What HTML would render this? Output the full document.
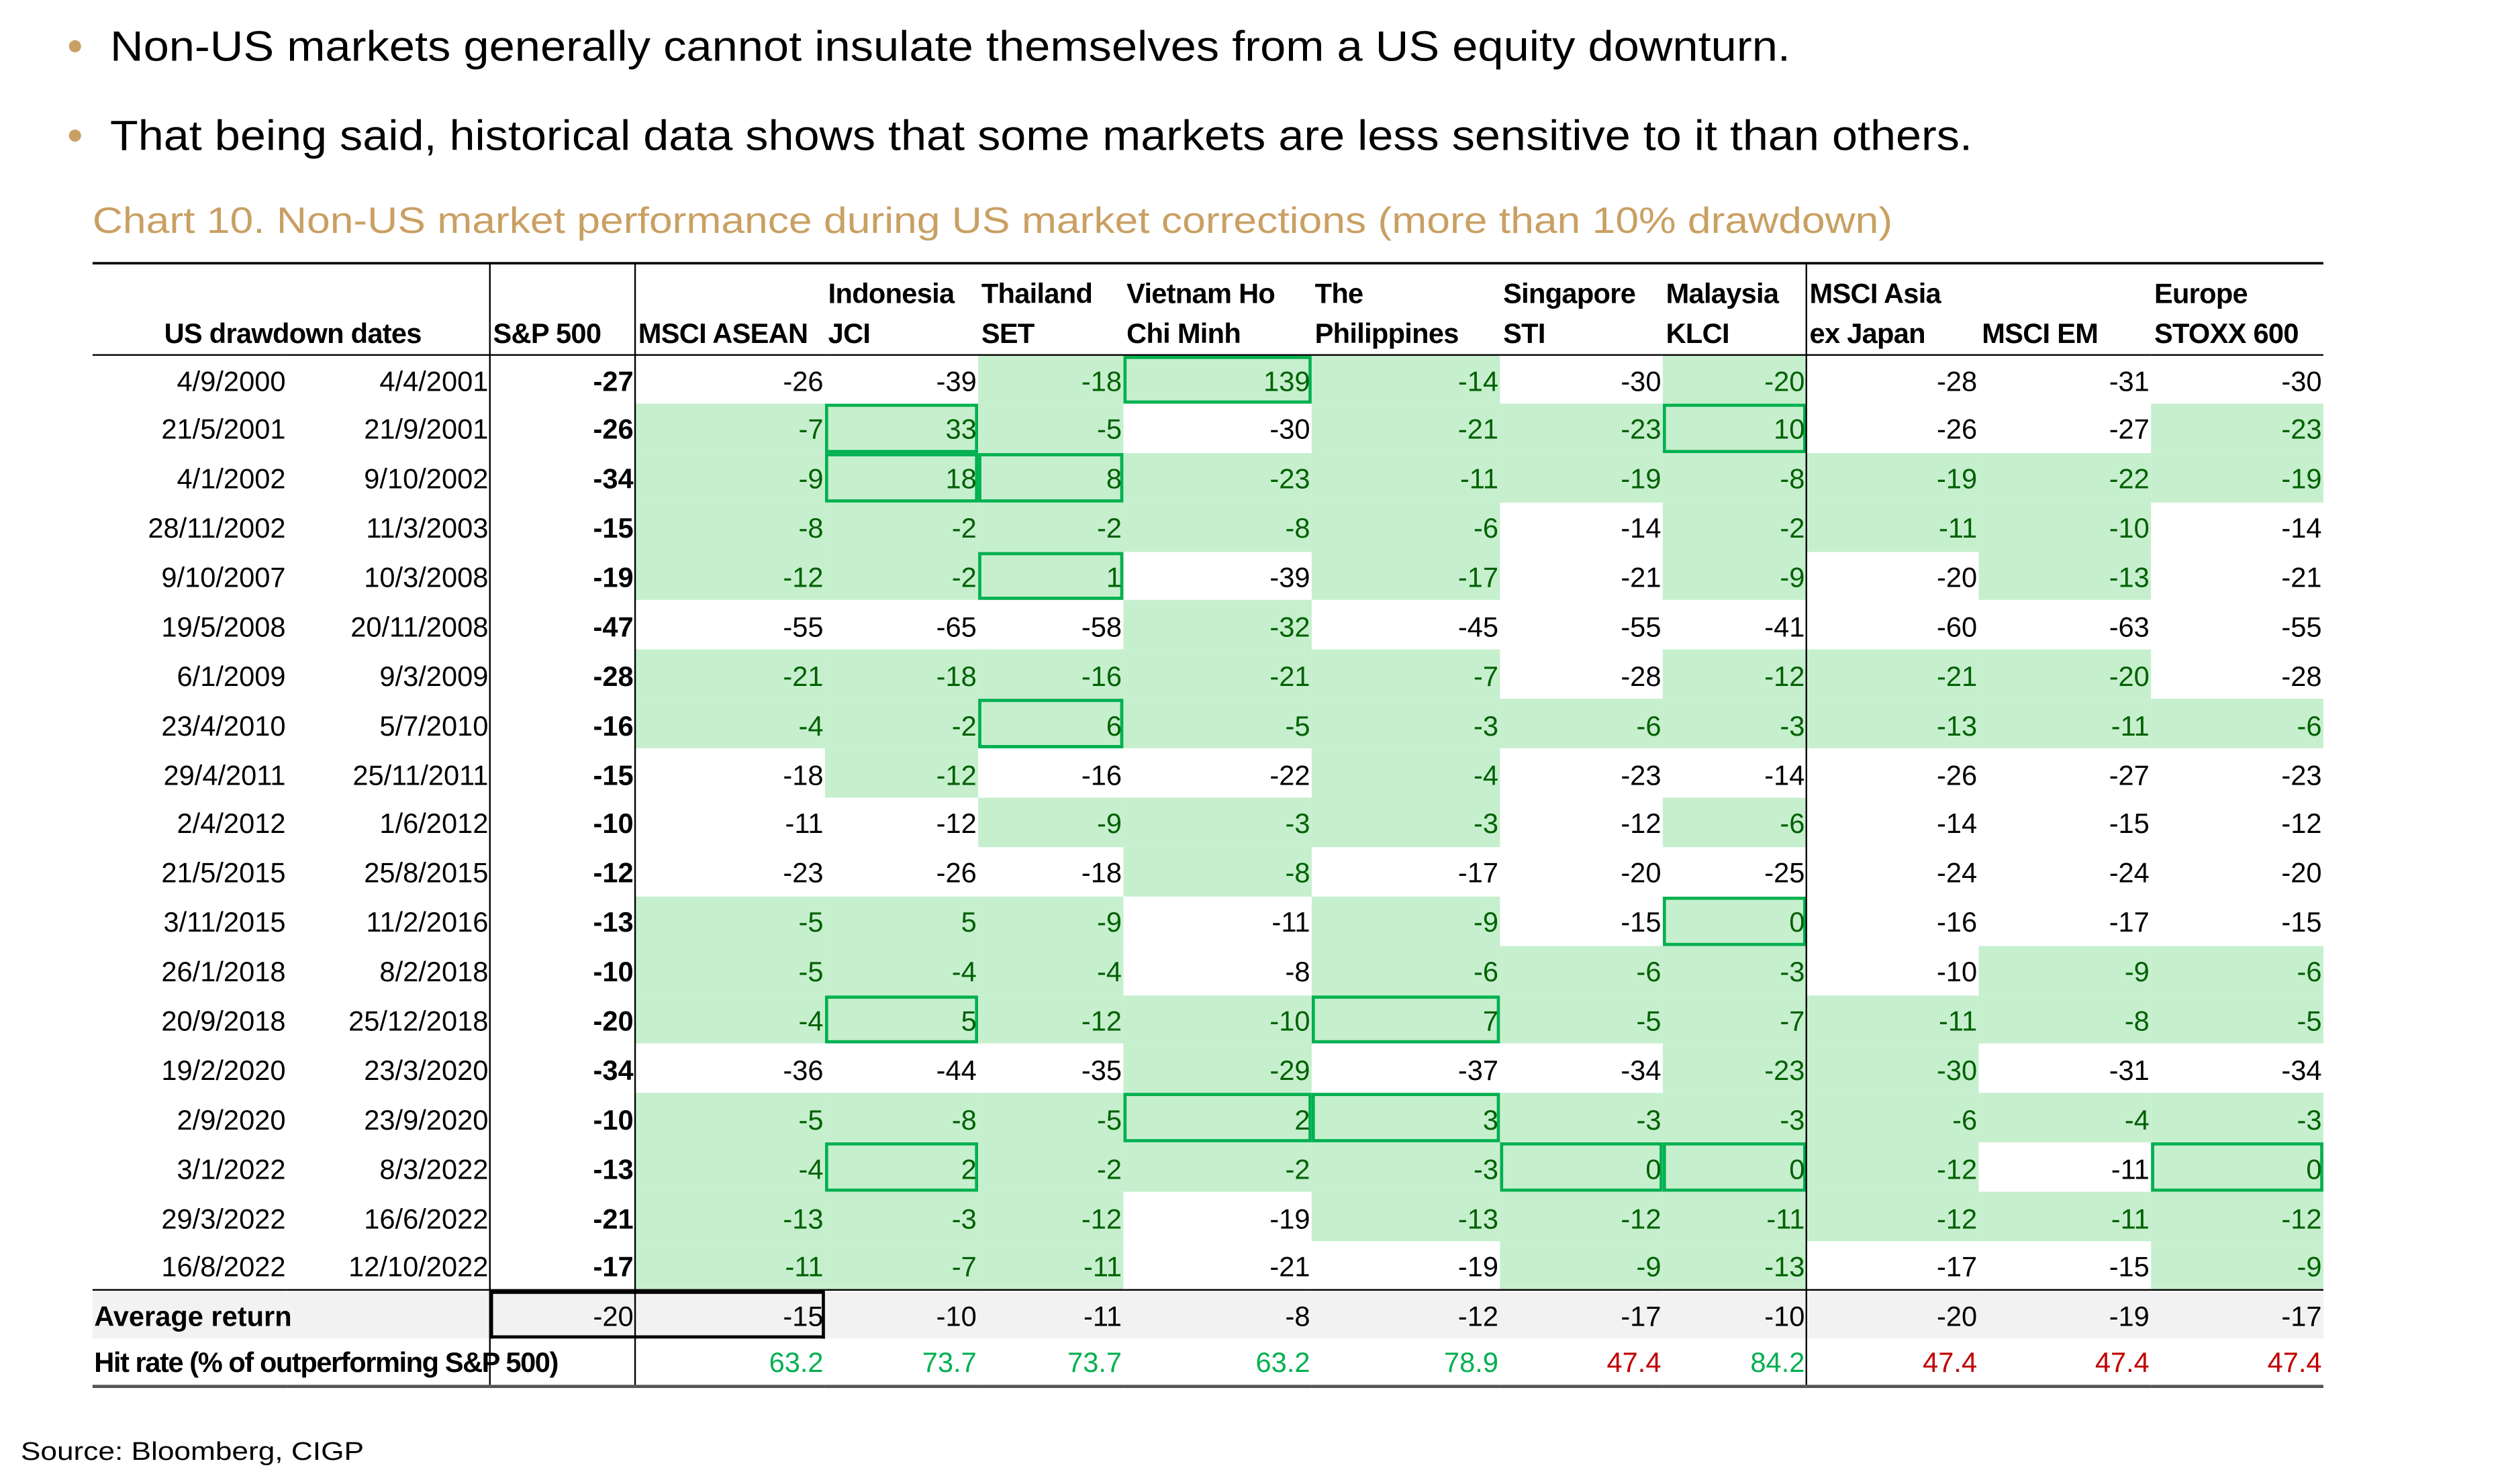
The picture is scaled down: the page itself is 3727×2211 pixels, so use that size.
<!DOCTYPE html>
<html><head><meta charset="utf-8">
<style>
html,body{margin:0;padding:0;background:#fff;}
body{width:3727px;height:2211px;overflow:hidden;position:relative;}
#w{position:absolute;left:0;top:0;width:1568px;height:930px;transform:scale(2.377);transform-origin:0 0;}
svg{position:absolute;left:0;top:0;}
table{position:absolute;left:58px;top:165px;width:1398px;border-collapse:collapse;table-layout:fixed;font-family:"Liberation Sans Narrow","Liberation Sans",sans-serif;font-size:17.5px;color:#000;border-spacing:0;}
td{padding:3px 1px 0 0;text-align:right;height:30.9px;line-height:27px;white-space:nowrap;overflow:visible;box-sizing:border-box;}
tr.h td{height:57px;vertical-align:bottom;text-align:left;font-weight:bold;line-height:25px;padding:0 0 0 2px;border-bottom:1px solid #000;letter-spacing:-0.3px;font-size:17.5px;}
td.g{background:#C6EFCE;color:#006100;}
td.b{background:#C6EFCE;color:#006100;box-shadow:inset 0 0 0 2px #00B050;}
td.s{font-weight:bold;}
tr.avg td{background:#F2F2F2;height:30px;border-top:1px solid #000;}
tr.hit td{height:27px;border-bottom:2px solid #555;padding-top:2px;}
.gr{color:#00B050;}.rd{color:#C00000;}
</style></head><body><div id="w">
<svg width="1568" height="930" viewBox="0 0 1568 930">
<circle cx="47" cy="29" r="3.8" fill="#C9A063"/>
<circle cx="47" cy="85" r="3.8" fill="#C9A063"/>
<text x="69" y="38" font-family="Liberation Sans, sans-serif" font-size="26.5" textLength="1053" lengthAdjust="spacingAndGlyphs" fill="#000">Non-US markets generally cannot insulate themselves from a US equity downturn.</text>
<text x="69" y="94" font-family="Liberation Sans, sans-serif" font-size="26.5" textLength="1167" lengthAdjust="spacingAndGlyphs" fill="#000">That being said, historical data shows that some markets are less sensitive to it than others.</text>
<text x="58" y="146" font-family="Liberation Sans, sans-serif" font-size="23" textLength="1128" lengthAdjust="spacingAndGlyphs" fill="#C9A063">Chart 10. Non-US market performance during US market corrections (more than 10% drawdown)</text>
<text x="13" y="915" font-family="Liberation Sans, sans-serif" font-size="16" textLength="215" lengthAdjust="spacingAndGlyphs" fill="#000">Source: Bloomberg, CIGP</text>
</svg>
<table>
<colgroup><col style="width:122px"><col style="width:127px"><col style="width:91px"><col style="width:119px"><col style="width:96px"><col style="width:91px"><col style="width:118px"><col style="width:118px"><col style="width:102px"><col style="width:90px"><col style="width:108px"><col style="width:108px"><col style="width:108px"></colgroup>
<tr class="h"><td colspan="2" style="text-align:center">US drawdown dates</td><td>S&amp;P 500</td><td>MSCI ASEAN</td><td>Indonesia<br>JCI</td><td>Thailand<br>SET</td><td>Vietnam Ho<br>Chi Minh</td><td>The<br>Philippines</td><td>Singapore<br>STI</td><td>Malaysia<br>KLCI</td><td>MSCI Asia<br>ex Japan</td><td>MSCI EM</td><td>Europe<br>STOXX 600</td></tr>
<tr><td>4/9/2000</td><td>4/4/2001</td><td class="s">-27</td><td>-26</td><td>-39</td><td class="g">-18</td><td class="b">139</td><td class="g">-14</td><td>-30</td><td class="g">-20</td><td>-28</td><td>-31</td><td>-30</td></tr>
<tr><td>21/5/2001</td><td>21/9/2001</td><td class="s">-26</td><td class="g">-7</td><td class="b">33</td><td class="g">-5</td><td>-30</td><td class="g">-21</td><td class="g">-23</td><td class="b">10</td><td>-26</td><td>-27</td><td class="g">-23</td></tr>
<tr><td>4/1/2002</td><td>9/10/2002</td><td class="s">-34</td><td class="g">-9</td><td class="b">18</td><td class="b">8</td><td class="g">-23</td><td class="g">-11</td><td class="g">-19</td><td class="g">-8</td><td class="g">-19</td><td class="g">-22</td><td class="g">-19</td></tr>
<tr><td>28/11/2002</td><td>11/3/2003</td><td class="s">-15</td><td class="g">-8</td><td class="g">-2</td><td class="g">-2</td><td class="g">-8</td><td class="g">-6</td><td>-14</td><td class="g">-2</td><td class="g">-11</td><td class="g">-10</td><td>-14</td></tr>
<tr><td>9/10/2007</td><td>10/3/2008</td><td class="s">-19</td><td class="g">-12</td><td class="g">-2</td><td class="b">1</td><td>-39</td><td class="g">-17</td><td>-21</td><td class="g">-9</td><td>-20</td><td class="g">-13</td><td>-21</td></tr>
<tr><td>19/5/2008</td><td>20/11/2008</td><td class="s">-47</td><td>-55</td><td>-65</td><td>-58</td><td class="g">-32</td><td>-45</td><td>-55</td><td>-41</td><td>-60</td><td>-63</td><td>-55</td></tr>
<tr><td>6/1/2009</td><td>9/3/2009</td><td class="s">-28</td><td class="g">-21</td><td class="g">-18</td><td class="g">-16</td><td class="g">-21</td><td class="g">-7</td><td>-28</td><td class="g">-12</td><td class="g">-21</td><td class="g">-20</td><td>-28</td></tr>
<tr><td>23/4/2010</td><td>5/7/2010</td><td class="s">-16</td><td class="g">-4</td><td class="g">-2</td><td class="b">6</td><td class="g">-5</td><td class="g">-3</td><td class="g">-6</td><td class="g">-3</td><td class="g">-13</td><td class="g">-11</td><td class="g">-6</td></tr>
<tr><td>29/4/2011</td><td>25/11/2011</td><td class="s">-15</td><td>-18</td><td class="g">-12</td><td>-16</td><td>-22</td><td class="g">-4</td><td>-23</td><td>-14</td><td>-26</td><td>-27</td><td>-23</td></tr>
<tr><td>2/4/2012</td><td>1/6/2012</td><td class="s">-10</td><td>-11</td><td>-12</td><td class="g">-9</td><td class="g">-3</td><td class="g">-3</td><td>-12</td><td class="g">-6</td><td>-14</td><td>-15</td><td>-12</td></tr>
<tr><td>21/5/2015</td><td>25/8/2015</td><td class="s">-12</td><td>-23</td><td>-26</td><td>-18</td><td class="g">-8</td><td>-17</td><td>-20</td><td>-25</td><td>-24</td><td>-24</td><td>-20</td></tr>
<tr><td>3/11/2015</td><td>11/2/2016</td><td class="s">-13</td><td class="g">-5</td><td class="g">5</td><td class="g">-9</td><td>-11</td><td class="g">-9</td><td>-15</td><td class="b">0</td><td>-16</td><td>-17</td><td>-15</td></tr>
<tr><td>26/1/2018</td><td>8/2/2018</td><td class="s">-10</td><td class="g">-5</td><td class="g">-4</td><td class="g">-4</td><td>-8</td><td class="g">-6</td><td class="g">-6</td><td class="g">-3</td><td>-10</td><td class="g">-9</td><td class="g">-6</td></tr>
<tr><td>20/9/2018</td><td>25/12/2018</td><td class="s">-20</td><td class="g">-4</td><td class="b">5</td><td class="g">-12</td><td class="g">-10</td><td class="b">7</td><td class="g">-5</td><td class="g">-7</td><td class="g">-11</td><td class="g">-8</td><td class="g">-5</td></tr>
<tr><td>19/2/2020</td><td>23/3/2020</td><td class="s">-34</td><td>-36</td><td>-44</td><td>-35</td><td class="g">-29</td><td>-37</td><td>-34</td><td class="g">-23</td><td class="g">-30</td><td>-31</td><td>-34</td></tr>
<tr><td>2/9/2020</td><td>23/9/2020</td><td class="s">-10</td><td class="g">-5</td><td class="g">-8</td><td class="g">-5</td><td class="b">2</td><td class="b">3</td><td class="g">-3</td><td class="g">-3</td><td class="g">-6</td><td class="g">-4</td><td class="g">-3</td></tr>
<tr><td>3/1/2022</td><td>8/3/2022</td><td class="s">-13</td><td class="g">-4</td><td class="b">2</td><td class="g">-2</td><td class="g">-2</td><td class="g">-3</td><td class="b">0</td><td class="b">0</td><td class="g">-12</td><td>-11</td><td class="b">0</td></tr>
<tr><td>29/3/2022</td><td>16/6/2022</td><td class="s">-21</td><td class="g">-13</td><td class="g">-3</td><td class="g">-12</td><td>-19</td><td class="g">-13</td><td class="g">-12</td><td class="g">-11</td><td class="g">-12</td><td class="g">-11</td><td class="g">-12</td></tr>
<tr><td>16/8/2022</td><td>12/10/2022</td><td class="s">-17</td><td class="g">-11</td><td class="g">-7</td><td class="g">-11</td><td>-21</td><td>-19</td><td class="g">-9</td><td class="g">-13</td><td>-17</td><td>-15</td><td class="g">-9</td></tr>
<tr class="avg"><td colspan="2" style="text-align:left;font-weight:bold;padding-left:1px">Average return</td><td style="box-shadow:inset 2px 2px 0 0 #000, inset 0 -2px 0 0 #000">-20</td><td style="box-shadow:inset -2px 2px 0 0 #000, inset 0 -2px 0 0 #000">-15</td><td>-10</td><td>-11</td><td>-8</td><td>-12</td><td>-17</td><td>-10</td><td>-20</td><td>-19</td><td>-17</td></tr>
<tr class="hit"><td colspan="3" style="text-align:left;font-weight:bold;padding-left:1px;font-size:17.5px;letter-spacing:-0.6px">Hit rate (% of outperforming S&amp;P 500)</td><td class="gr">63.2</td><td class="gr">73.7</td><td class="gr">73.7</td><td class="gr">63.2</td><td class="gr">78.9</td><td class="rd">47.4</td><td class="gr">84.2</td><td class="rd">47.4</td><td class="rd">47.4</td><td class="rd">47.4</td></tr>
</table>
<svg width="1568" height="930" viewBox="0 0 1568 930" style="pointer-events:none">
<line x1="58" y1="165" x2="1456" y2="165" stroke="#000" stroke-width="1.5"/>
<line x1="307" y1="165" x2="307" y2="868" stroke="#000" stroke-width="1"/>
<line x1="398" y1="165" x2="398" y2="868" stroke="#000" stroke-width="1"/>
<line x1="1132" y1="165" x2="1132" y2="868" stroke="#000" stroke-width="1"/>
</svg>
</div></body></html>
